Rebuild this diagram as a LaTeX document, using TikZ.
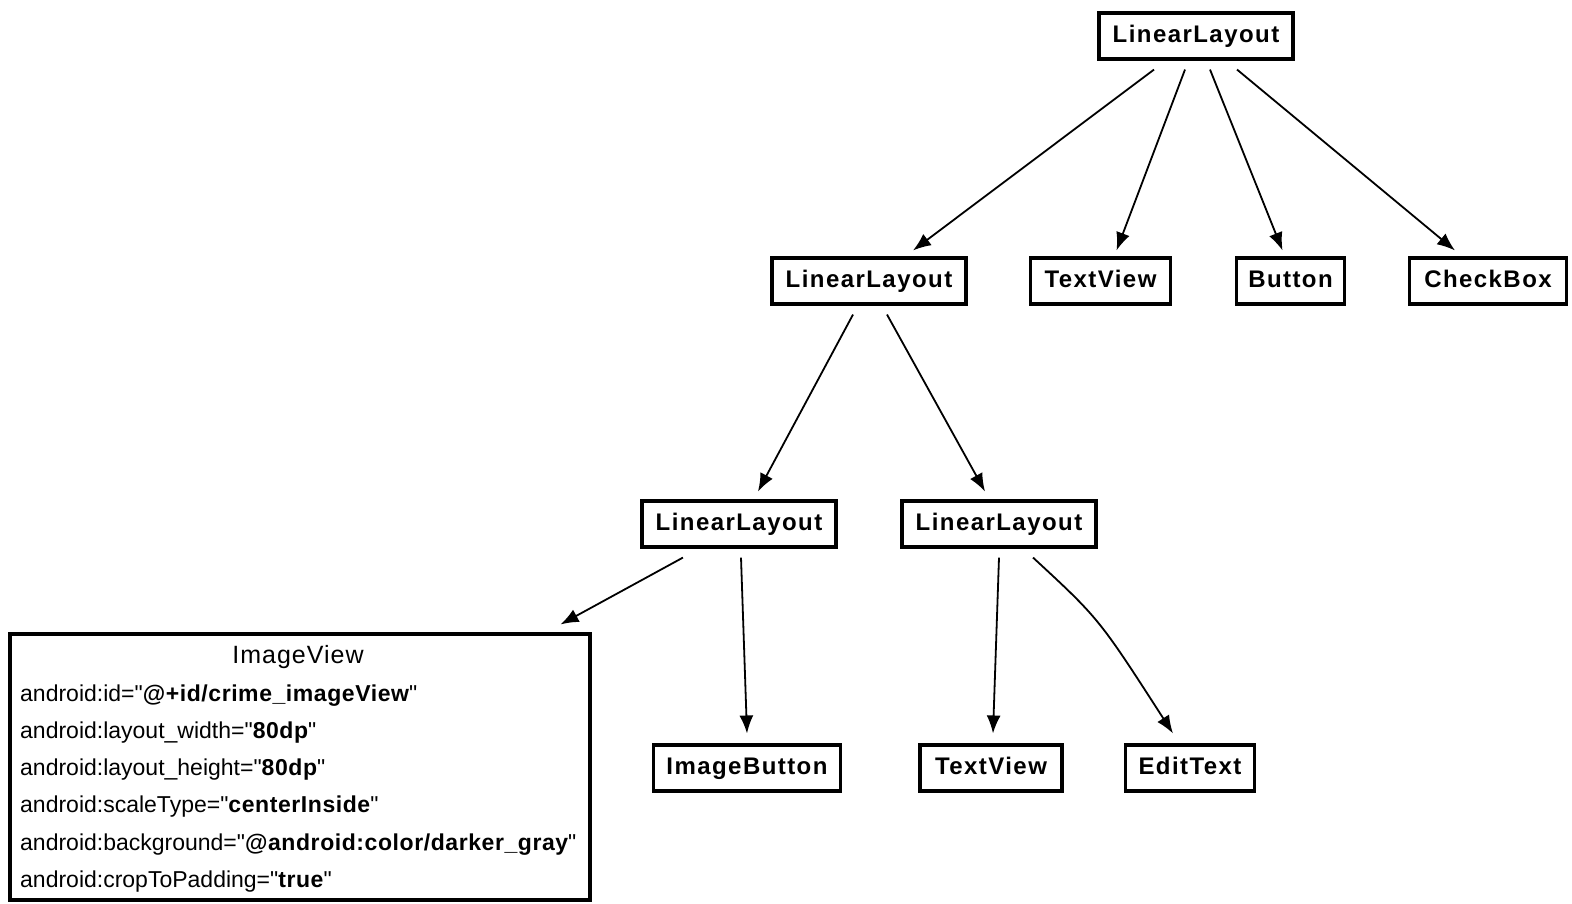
\documentclass[tikz,border=0pt]{standalone}
\usepackage{fontspec}
\setmainfont{Liberation Sans}
\newfontfamily\boxfont{Liberation Sans}[LetterSpace=6]
\newfontfamily\titlefont{Liberation Sans}[LetterSpace=4]
\newcommand\qq{\textquotedbl}
\newcommand\bv[1]{{\bfseries\addfontfeatures{LetterSpace=2.5}#1}}
\usetikzlibrary{arrows.meta,calc}
\tikzset{
  vbox/.style={draw=black, line width=3.1pt, inner sep=0pt, minimum height=46pt,
    font=\boxfont\bfseries\fontsize{24}{28}\selectfont, text height=17pt, text depth=5pt},
  ivbox/.style={draw=black, line width=3.1pt, inner sep=0pt, minimum width=580pt, minimum height=266pt},
  ivtitle/.style={inner sep=0pt, anchor=base, font=\titlefont\fontsize{25}{28}\selectfont},
  attr/.style={inner sep=0pt, anchor=base west, font=\fontsize{23}{27}\selectfont},
  arr/.style={line width=1.8pt, -{Latex[length=18pt,width=14pt]}}
}
\begin{document}
\begin{tikzpicture}[x=1pt,y=-1pt]
\useasboundingbox (0,0) rectangle (1572,903);
% row 1
\node[vbox, minimum width=194pt] (top) at (1196,36) {LinearLayout};
% row 2
\node[vbox, minimum width=194pt] (ll2) at (869,281) {LinearLayout};
\node[vbox, minimum width=140pt] (tv1) at (1100.5,281) {TextView};
\node[vbox, minimum width=108pt] (btn) at (1290.5,281) {Button};
\node[vbox, minimum width=157pt] (cb) at (1488,281) {CheckBox};
% row 3
\node[vbox, minimum width=194pt] (ll3a) at (739,524) {LinearLayout};
\node[vbox, minimum width=194pt] (ll3b) at (999,524) {LinearLayout};
% row 4
\node[vbox, minimum width=187pt] (ib) at (747,768) {ImageButton};
\node[vbox, minimum width=142pt] (tv2) at (991,768) {TextView};
\node[vbox, minimum width=129pt] (et) at (1190,768) {EditText};
% ImageView box
\node[ivbox] (iv) at (300,767) {};
\node[ivtitle] (ivt) at (298,663) {ImageView};
\node[attr] (a1) at (20,701) {android:id=\qq\bv{@+id/crime\_imageView}\qq};
\node[attr] (a2) at (20,738) {android:layout\_width=\qq\bv{80dp}\qq};
\node[attr] (a3) at (20,775) {android:layout\_height=\qq\bv{80dp}\qq};
\node[attr] (a4) at (20,812) {android:scaleType=\qq\bv{centerInside}\qq};
\node[attr] (a5) at (20,850) {android:background=\qq\bv{@android:color/darker\_gray}\qq};
\node[attr] (a6) at (20,887) {android:cropToPadding=\qq\bv{true}\qq};
% edges
\draw[arr] ($(top.south)+(-42,9)$) -- ($(ll2.north)+(44,-6)$);
\draw[arr] ($(top.south)+(-11,9)$) -- ($(tv1.north)+(16,-6)$);
\draw[arr] ($(top.south)+(14,9)$) -- ($(btn.north)+(-8,-6)$);
\draw[arr] ($(top.south)+(41,9)$) -- ($(cb.north)+(-33,-6)$);
\draw[arr] ($(ll2.south)+(-16,9)$) -- ($(ll3a.north)+(19,-8)$);
\draw[arr] ($(ll2.south)+(18,9)$) -- ($(ll3b.north)+(-14,-8)$);
\draw[arr] ($(ll3a.south)+(-56,9)$) -- ($(iv.north east)+(-31,-8)$);
\draw[arr] ($(ll3a.south)+(2,9)$) -- ($(ib.north)+(0,-10)$);
\draw[arr] ($(ll3b.south)+(0,9)$) -- ($(tv2.north)+(2,-10)$);
\draw[arr] ($(ll3b.south)+(34,9)$) .. controls ($(ll3b.south)+(100,70)$) .. ($(et.north)+(-17,-10)$);
\end{tikzpicture}
\end{document}
